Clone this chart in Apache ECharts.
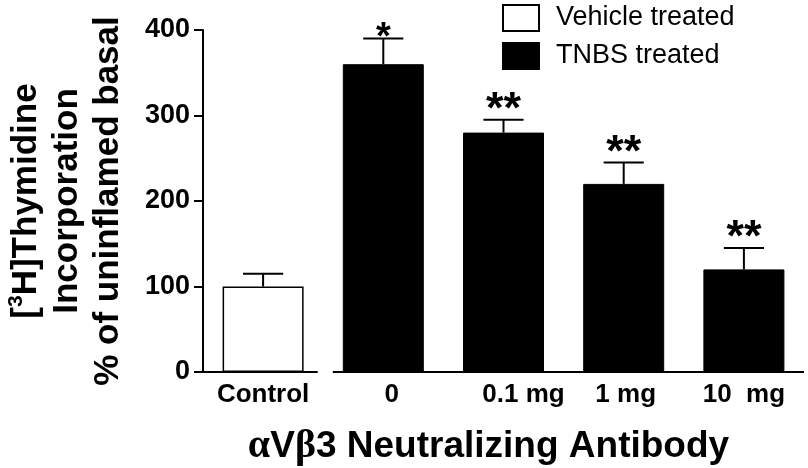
<!DOCTYPE html>
<html>
<head>
<meta charset="utf-8">
<script src="https://cdn.jsdelivr.net/npm/echarts@6/dist/echarts.min.js"></script>
<style>
html,body{margin:0;padding:0;background:#fff;}
#main{width:808px;height:468px;}
</style>
</head>
<body>
<div id="main"></div>
<script>
const categories = ['Control', '0', '0.1 mg', '1 mg', '10  mg'];
const vehicleValues = [100, '-', '-', '-', '-'];
const tnbsValues = ['-', 360, 280, 220, 120];
const errorTops = [115, 390, 295, 245, 145];
const stars = ['', '*', '**', '**', '**'];
const yTicks = [0, 100, 200, 300, 400];

const FONT = "'Liberation Sans', Arial, Helvetica, sans-serif";
const SERIF = "'Liberation Serif', 'Times New Roman', serif";
const chart = echarts.init(document.getElementById('main'), null, {renderer: 'canvas'});

const means = categories.map((c, i) => vehicleValues[i] !== '-' ? vehicleValues[i] : tnbsValues[i]);
const errData = categories.map((c, i) => [i, means[i], errorTops[i], stars[i]]);

const labelRich = {
  p0: {padding: [0, 0, 0, 0]},
  p1: {padding: [0, 0, 0, 17]},
  p2: {padding: [0, 0, 0, 40]},
  p3: {padding: [0, 0, 0, 4]},
  p4: {padding: [0, 0, 0, 0]}
};
Object.keys(labelRich).forEach(k => Object.assign(labelRich[k], {fontSize: 26, fontWeight: 'bold', color: '#000', fontFamily: FONT}));

const titleBase = {fontSize: 35, fontWeight: 'bold', color: '#000', fontFamily: FONT, lineHeight: 41};
const xTitleBase = {fontSize: 37, fontWeight: 'bold', color: '#000', fontFamily: FONT};
const xTitleGreek = {fontSize: 40, fontWeight: 'bold', color: '#000', fontFamily: SERIF};

const option = {
  animation: false,
  backgroundColor: '#fff',
  grid: {left: 203, right: 4, top: 30, bottom: 96, containLabel: false, outerBoundsMode: 'none'},
  legend: {
    orient: 'vertical',
    left: 502,
    top: 4,
    padding: 0,
    itemWidth: 36,
    itemHeight: 26,
    itemGap: 10,
    icon: 'rect',
    data: ['Vehicle treated', 'TNBS treated'],
    textStyle: {fontSize: 27, color: '#000', fontFamily: FONT, padding: [0, 0, 0, 12]}
  },
  xAxis: {
    type: 'category',
    data: categories,
    boundaryGap: true,
    axisLine: {show: false},
    axisTick: {show: false},
    axisLabel: {
      interval: 0,
      margin: 10,
      formatter: (v, i) => '{p' + i + '|' + v + '}',
      rich: labelRich
    },
    name: '{g|α}{a|V}{g|β}{a|3 Neutralizing Antibody}',
    nameLocation: 'middle',
    nameGap: 75,
    nameTextStyle: Object.assign({}, xTitleBase, {padding: [0, 30, 0, 0], align: 'center', verticalAlign: 'middle',
      rich: {a: xTitleBase, g: xTitleGreek}})
  },
  yAxis: {
    type: 'value',
    min: yTicks[0],
    max: yTicks[yTicks.length - 1],
    interval: 100,
    splitLine: {show: false},
    axisLine: {show: true, lineStyle: {color: '#000', width: 2}},
    axisTick: {show: true, length: 9, lineStyle: {color: '#000', width: 2}},
    axisLabel: {fontSize: 27, fontWeight: 'bold', color: '#000', fontFamily: FONT, margin: 13},
    name: '{a|[}{sup|3}{a|H]Thymidine}\n{a|Incorporation}\n{a|% of uninflamed basal}',
    nameLocation: 'middle',
    nameRotate: 90,
    nameGap: 136,
    nameTextStyle: Object.assign({}, titleBase, {
      align: 'center', verticalAlign: 'middle',
      rich: {
        a: titleBase,
        sup: {fontSize: 21, fontWeight: 'bold', color: '#000', fontFamily: FONT, verticalAlign: 'top', lineHeight: 20}
      }
    })
  },
  series: [
    {
      name: 'Vehicle treated',
      type: 'bar',
      data: vehicleValues,
      barWidth: 81,
      barGap: '-100%',
      itemStyle: {color: '#fff', borderColor: '#000', borderWidth: 1.5}
    },
    {
      name: 'TNBS treated',
      type: 'bar',
      data: tnbsValues,
      barWidth: 81,
      barGap: '-100%',
      itemStyle: {color: '#000', borderColor: '#000', borderWidth: 1}
    },
    {
      name: 'errors',
      type: 'custom',
      data: errData,
      z: 5,
      renderItem: function (params, api) {
        const i = api.value(0);
        const p0 = api.coord([i, api.value(1)]);
        const p1 = api.coord([i, api.value(2)]);
        const band = api.size([1, 0])[0];
        const half = band * 0.167;
        const star = stars[i];
        const children = [
          {type: 'line', shape: {x1: p0[0], y1: p0[1], x2: p1[0], y2: p1[1]}, style: {stroke: '#000', lineWidth: 2}},
          {type: 'line', shape: {x1: p1[0] - half, y1: p1[1], x2: p1[0] + half, y2: p1[1]}, style: {stroke: '#000', lineWidth: 2}}
        ];
        if (star) {
          const dbl = star.length > 1;
          children.push({type: 'text', style: {text: star, x: p1[0], y: p1[1] - (dbl ? 9 : 0), align: 'center', verticalAlign: 'middle', fontSize: dbl ? 45 : 38, fontWeight: 'bold', fontFamily: FONT, fill: '#000'}});
        }
        return {type: 'group', children: children};
      }
    },
    {
      name: 'xaxisline',
      type: 'custom',
      data: [[0, 0]],
      z: 6,
      renderItem: function (params, api) {
        const band = api.size([1, 0])[0];
        const c0 = api.coord([0, 0]);
        const c1 = api.coord([1, 0]);
        const c4 = api.coord([categories.length - 1, 0]);
        return {type: 'group', children: [
          {type: 'line', shape: {x1: c0[0] - band / 2, y1: c0[1], x2: c0[0] + band * 0.454, y2: c0[1]}, style: {stroke: '#000', lineWidth: 2}},
          {type: 'line', shape: {x1: c1[0] - band * 0.42, y1: c1[1], x2: c4[0] + band / 2, y2: c4[1]}, style: {stroke: '#000', lineWidth: 2}}
        ]};
      }
    }
  ]
};
chart.setOption(option);
</script>
</body>
</html>
